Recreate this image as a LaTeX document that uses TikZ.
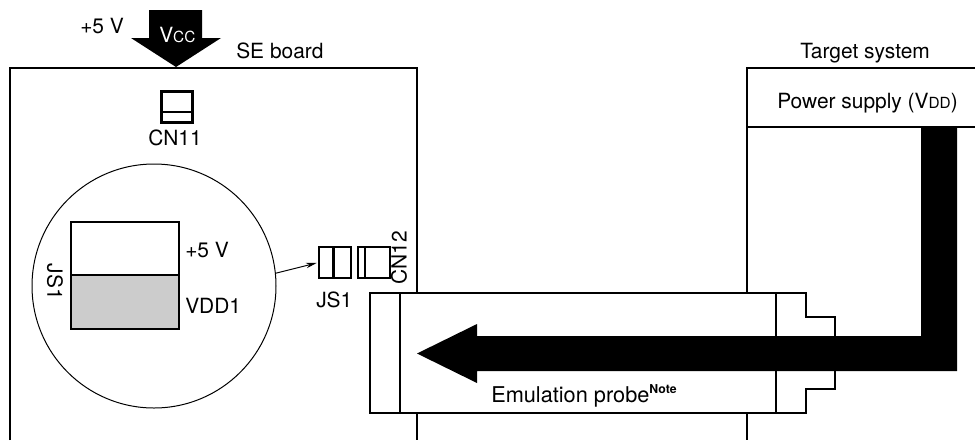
\documentclass[tikz,border=0pt]{standalone}
\usepackage{fontspec}
\setmainfont{TeX Gyre Heros}
\usetikzlibrary{arrows.meta}
\newcommand{\smallsub}[1]{{\fontsize{11.5pt}{12pt}\selectfont #1}}
\tikzset{
  x=0.75pt,y=-0.75pt,
  lbl/.style={inner sep=0pt,anchor=base west,font=\fontsize{15.7pt}{18pt}\selectfont},
  rotlbl/.style={inner sep=0pt,anchor=center,font=\fontsize{15.7pt}{18pt}\selectfont},
  heavy/.style={line width=2.1pt,line join=miter},
  medium/.style={line width=1.6pt},
  thin line/.style={line width=0.75pt},
  solidblack/.style={fill=black,draw=none},
  boxnode/.style={draw,line width=1.7pt,inner sep=0pt,anchor=north west}
}
\begin{document}
\begin{tikzpicture}
\useasboundingbox (0,0) rectangle (975,440);
% SE board
\draw[heavy] (10,440) -- (10,68) -- (417,68) -- (417,293);
\draw[heavy] (417,413) -- (417,440);
% Target system
\draw[heavy] (975,68) -- (747,68) -- (747,293);
\draw[heavy] (747,413) -- (747,440);
\draw[heavy] (747,127) -- (975,127);
% Vcc arrow
\fill[solidblack] (149,10) -- (202,10) -- (202,38) -- (221,38) -- (176,67) -- (131,38) -- (149,38) -- cycle;
% CN11
\node[boxnode,line width=1.9pt,minimum width=23.25pt,minimum height=23.25pt] (cnbox) at (160,90) {};
\draw[medium] (160,112) -- (191,112);
% zoom circle
\node[draw,circle,thin line,minimum size=183pt,inner sep=0pt] (circ) at (154,286) {};
% jumper detail
\draw[heavy,fill=black!20] (71,275) rectangle (179,329);
\draw[heavy] (71,222) rectangle (179,275);
% JS1 small
\node[boxnode,minimum width=24pt,minimum height=23.25pt] (jsbox) at (318,246) {};
\draw[medium] (333.5,246) -- (333.5,277);
% CN12 small
\node[boxnode,minimum width=24pt,minimum height=23.25pt] (cnbigbox) at (357,246) {};
\draw[medium] (365,246) -- (365,277);
% leader
\draw[thin line,-{Stealth[length=8pt,width=4pt,inset=2.5pt]},shorten >=1pt] (circ.6) -- (jsbox.west);
% probe
\draw[medium] (776,293) -- (806,293) -- (806,317) -- (835,317) -- (835,389) -- (806,389) -- (806,413) -- (370,413) -- (370,293) -- cycle;
\draw[medium] (400,293) -- (400,413);
\draw[medium] (776,293) -- (776,413);
% VDD power arrow
\fill[solidblack] (921,127) -- (957,127) -- (957,371) -- (477,371) -- (477,383) -- (417,353.5) -- (477,324) -- (477,336) -- (921,336) -- cycle;
% texts
\node[lbl] (t5v) at (80,33) {+5 V};
\node[lbl,text=white] (tvcc) at (159,42) {V\smallsub{CC}};
\node[lbl] (tse) at (236,58) {SE board};
\node[lbl] (tcn11) at (148,145) {CN11};
\node[lbl] (ttarget) at (800,58) {Target system};
\node[lbl] (tpower) at (777,108) {Power supply (V\smallsub{DD})};
\node[lbl] (tplus) at (185,257) {+5 V};
\node[lbl] (tvdd) at (185,313) {VDD1};
\node[rotlbl,rotate=-90] (tjsr) at (55,282) {JS1};
\node[lbl] (tjs) at (316,307) {JS1};
\node[rotlbl,rotate=90] (tcn12) at (399,258) {CN12};
\node[lbl,font=\fontsize{16.3pt}{18pt}\selectfont] (tprobe) at (491,402) {Emulation probe\raisebox{6.5pt}{\fontsize{9.2pt}{10pt}\selectfont\bfseries Note}};
\end{tikzpicture}
\end{document}
